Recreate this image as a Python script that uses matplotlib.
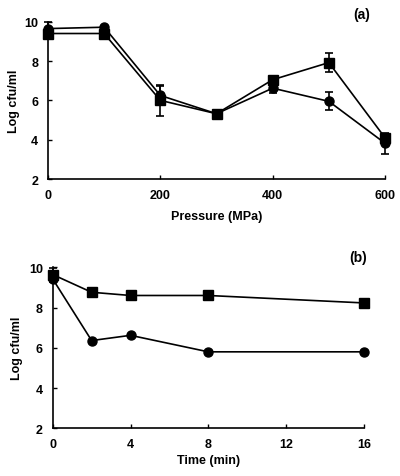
import matplotlib
matplotlib.use('Agg')
import matplotlib.pyplot as plt

plt.rcParams['font.family'] = ['Liberation Sans', 'DejaVu Sans']
plt.rcParams['font.weight'] = 'bold'

# panel (a): pressure
pressure = [0, 100, 200, 300, 400, 500, 600]
a_circle = [9.65, 9.72, 6.25, 5.32, 6.62, 5.95, 3.82]
a_circle_err = [0.35, 0.05, 0.5, 0.05, 0.25, 0.45, 0.53]
a_square = [9.4, 9.4, 6.0, 5.32, 7.05, 7.92, 4.1]
a_square_err = [0.05, 0.05, 0.8, 0.05, 0.2, 0.5, 0.2]

# panel (b): time
time_min = [0, 2, 4, 8, 16]
b_circle = [9.42, 6.36, 6.62, 5.8, 5.8]
b_square = [9.64, 8.76, 8.6, 8.6, 8.23]
b_square_err = [0.35, 0.0, 0.0, 0.0, 0.0]

fig = plt.figure(figsize=(4.0, 4.77), dpi=100)
ax1 = fig.add_axes([0.12, 0.6226, 0.8425, 0.3298])
ax2 = fig.add_axes([0.1318, 0.100, 0.778, 0.3375])

style = dict(color='black', linewidth=1.2, capsize=3, elinewidth=1.2, capthick=1.2, clip_on=False)

ax1.errorbar(pressure, a_square, yerr=a_square_err, marker='s', markersize=6.5, **style)
ax1.errorbar(pressure, a_circle, yerr=a_circle_err, marker='o', markersize=6.5, **style)
ax1.set_xlim(0, 600)
ax1.set_ylim(2, 10)
ax1.set_xticks([0, 200, 400, 600])
ax1.set_yticks([2, 4, 6, 8, 10])
ax1.set_xlabel('Pressure (MPa)', fontsize=9, fontweight='bold', labelpad=7)
ax1.set_ylabel('Log cfu/ml', fontsize=9, fontweight='bold', labelpad=3)
ax1.text(0.93, 1.05, '(a)', transform=ax1.transAxes, ha='center', va='center', fontsize=10, fontweight='bold')

ax2.errorbar(time_min, b_square, yerr=b_square_err, marker='s', markersize=6.5, **style)
ax2.plot(time_min, b_circle, color='black', linewidth=1.2, marker='o', markersize=6.5, clip_on=False)
ax2.set_xlim(0, 16)
ax2.set_ylim(2, 10)
ax2.set_xticks([0, 4, 8, 12, 16])
ax2.set_yticks([2, 4, 6, 8, 10])
ax2.set_xlabel('Time (min)', fontsize=9, fontweight='bold', labelpad=3)
ax2.set_ylabel('Log cfu/ml', fontsize=9, fontweight='bold', labelpad=4)
ax2.text(0.98, 1.062, '(b)', transform=ax2.transAxes, ha='center', va='center', fontsize=10, fontweight='bold')

for ax in (ax1, ax2):
    ax.spines['top'].set_visible(False)
    ax.spines['right'].set_visible(False)
    ax.spines['left'].set_linewidth(1.2)
    ax.spines['bottom'].set_linewidth(1.2)
    ax.tick_params(direction='in', length=3, width=1, labelsize=9, pad=7)
    for lab in ax.get_xticklabels() + ax.get_yticklabels():
        lab.set_fontweight('bold')

fig.savefig('out.png', dpi=100)
